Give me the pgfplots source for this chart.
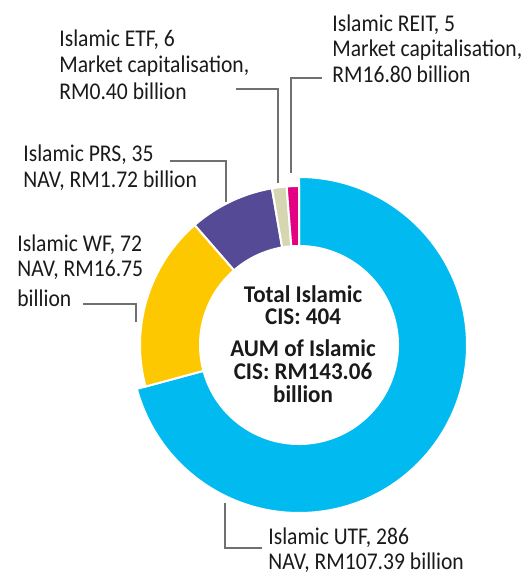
\documentclass[border=0pt]{standalone}
\usepackage{pgfplots}
\pgfplotsset{compat=1.18}
\usepackage{fontspec}
\setmainfont[FakeStretch=0.9, BoldFeatures={FakeStretch=0.96}]{Carlito}

\definecolor{utf}{HTML}{00BAF0}
\definecolor{wf}{HTML}{FEC800}
\definecolor{prs}{HTML}{554A96}
\definecolor{etf}{HTML}{D7D6B2}
\definecolor{reit}{HTML}{E30082}
\definecolor{lead}{HTML}{707070}
\definecolor{txt}{HTML}{1A1A1A}

% #1 start count, #2 end count (of 404 funds), #3 colour, #4 outer radius (px)
\newcommand\slice[4]{%
  \pgfmathsetmacro\sa{90-(#1/404)*360}%
  \pgfmathsetmacro\ea{90-(#2/404)*360}%
  \pgfmathsetmacro\xa{299+#4*cos(\sa)}%
  \pgfmathsetmacro\ya{-345+#4*sin(\sa)}%
  \pgfmathsetmacro\xb{299+99*cos(\ea)}%
  \pgfmathsetmacro\yb{-345+99*sin(\ea)}%
  \edef\tmp{\noexpand\fill[#3, draw=white, line width=1pt]
   (axis cs:\xa,\ya) arc[start angle=\sa, end angle=\ea, radius=#4]
   -- (axis cs:\xb,\yb) arc[start angle=\ea, end angle=\sa, radius=99] -- cycle;}%
  \tmp}

\tikzset{
  lbl/.style={anchor=base west, inner sep=0pt, text=txt, font=\fontsize{12}{14}\selectfont},
  ctr/.style={anchor=base, inner sep=0pt, text=txt, font=\fontsize{12}{14}\selectfont\bfseries}}

\begin{document}
\begin{tikzpicture}
\begin{axis}[x=0.5pt, y=0.5pt, xmin=0, xmax=522, ymin=-574, ymax=0,
  scale only axis, hide axis, clip=false]
\coordinate (bl) at (rel axis cs:0,0);
\coordinate (tr) at (rel axis cs:1,1);
% counts: UTF 286, WF 72, PRS 35, ETF 6, REIT 5 (total 404)
\slice{0}{286}{utf}{168}
\slice{286}{358}{wf}{159}
\slice{358}{393}{prs}{159}
\slice{393}{399}{etf}{159}
\slice{399}{404}{reit}{159}

% leaders
\draw[lead, line width=0.75pt] (axis cs:322,-78) -- (axis cs:291,-78) -- (axis cs:291,-173);
\draw[lead, line width=0.75pt] (axis cs:236,-89) -- (axis cs:278,-89) -- (axis cs:278,-183);
\draw[lead, line width=0.75pt] (axis cs:170,-161) -- (axis cs:226,-161) -- (axis cs:226,-202);
\draw[lead, line width=0.75pt] (axis cs:83,-304) -- (axis cs:136,-304) -- (axis cs:136,-322);
\draw[lead, line width=0.75pt] (axis cs:262,-548) -- (axis cs:225,-548) -- (axis cs:225,-503);

% labels
\node[lbl] at (axis cs:332,-32) {Islamic REIT, 5};
\node[lbl] at (axis cs:332,-57) {Market capitalisation,};
\node[lbl] at (axis cs:332,-83) {RM16.80 billion};

\node[lbl] at (axis cs:59,-47) {Islamic ETF, 6};
\node[lbl] at (axis cs:59,-73) {Market capitalisation,};
\node[lbl] at (axis cs:59,-100) {RM0.40 billion};

\node[lbl] at (axis cs:23,-162) {Islamic PRS, 35};
\node[lbl] at (axis cs:23,-188) {NAV, RM1.72 billion};

\node[lbl] at (axis cs:17,-252) {Islamic WF, 72};
\node[lbl] at (axis cs:17,-277) {NAV, RM16.75};
\node[lbl] at (axis cs:17,-307) {billion};

\node[lbl] at (axis cs:268,-545) {Islamic UTF, 286};
\node[lbl] at (axis cs:268,-570) {NAV, RM107.39 billion};

% centre
\node[ctr] at (axis cs:303,-303) {Total Islamic};
\node[ctr] at (axis cs:303,-325) {CIS: 404};
\node[ctr] at (axis cs:303,-357) {AUM of Islamic};
\node[ctr] at (axis cs:303,-380) {CIS: RM143.06};
\node[ctr] at (axis cs:303,-403) {billion};
\end{axis}
\pgfresetboundingbox
\path (bl) rectangle (tr);
\end{tikzpicture}
\end{document}
